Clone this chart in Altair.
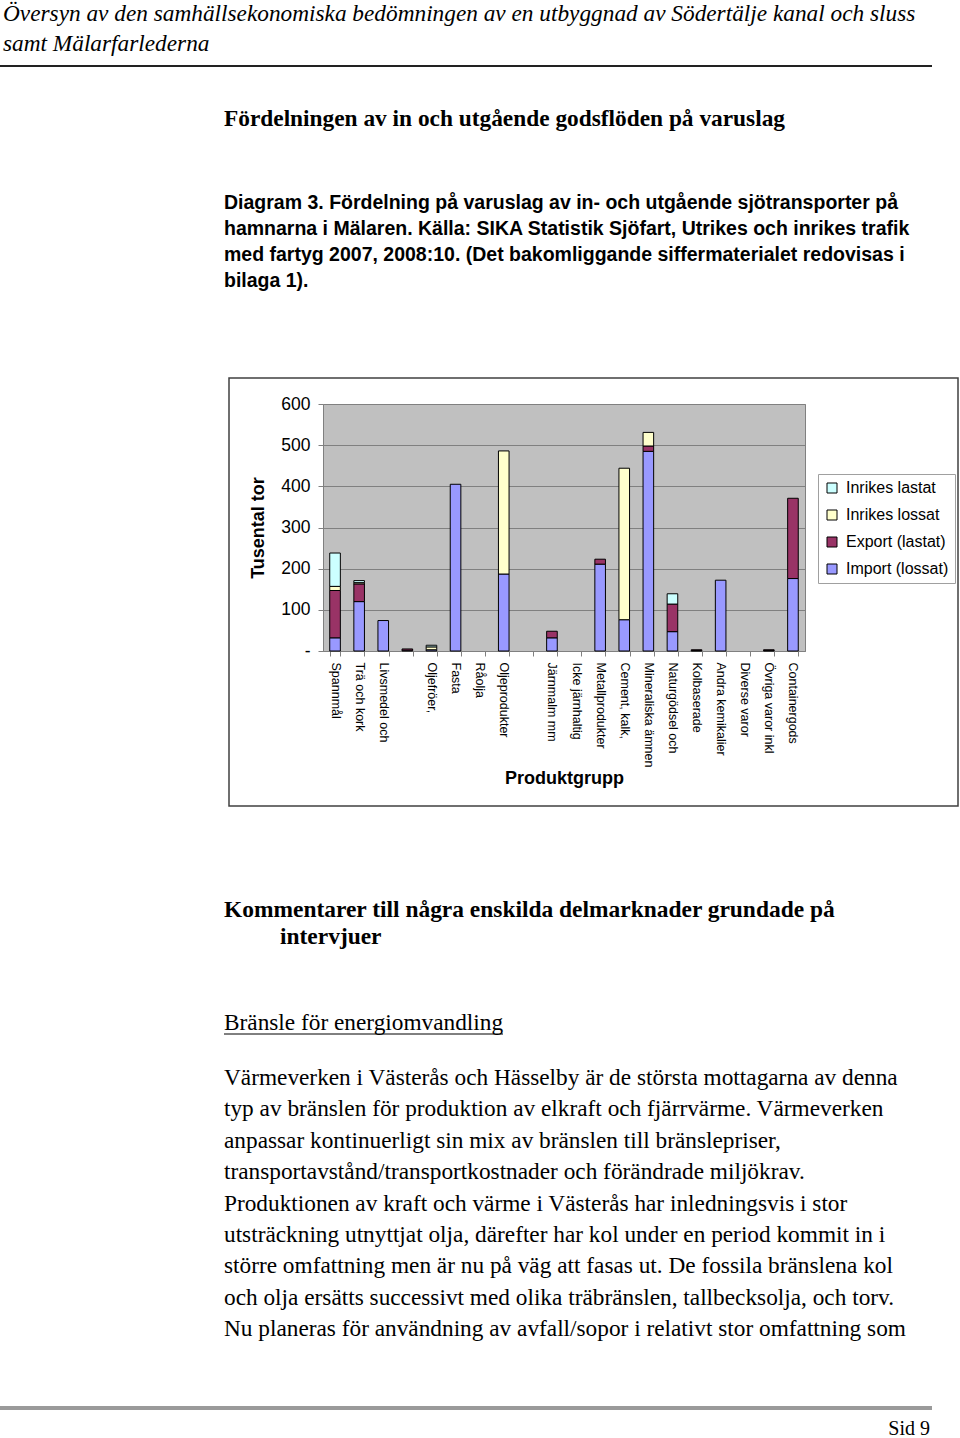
import altair as alt
import pandas as pd

# ---------------- data ----------------
categories = ["Spannmål", "Trä och kork", "Livsmedel och", " ", "Oljefröer,", "Fasta",
              "Råolja", "Oljeprodukter", "  ", "Järnmalm mm", "Icke järnhaltig",
              "Metallprodukter", "Cement, kalk,", "Mineraliska ämnen", "Naturgödsel och",
              "Kolbaserade", "Andra kemikalier", "Diverse varor", "Övriga varor inkl",
              "Containergods"]
import_lossat = [32, 120, 74, 2, 3, 405, 0, 187, 0, 32, 0, 211, 76, 485, 47, 1, 172, 0, 1, 176]
export_lastat = [115, 43, 0, 3, 0, 0, 0, 0, 0, 16, 0, 12, 0, 13, 67, 2, 0, 0, 2, 195]
inrikes_lossat = [10, 3, 0, 0, 7, 0, 0, 299, 0, 0, 0, 0, 368, 33, 0, 0, 0, 0, 0, 0]
inrikes_lastat = [81, 5, 0, 0, 4, 0, 0, 0, 0, 0, 0, 0, 0, 0, 25, 0, 0, 0, 0, 0]

series_names = ["Inrikes lastat", "Inrikes lossat", "Export (lastat)", "Import (lossat)"]
series_colors = ["#CCFFFF", "#FFFFCC", "#993366", "#9999FF"]
y_ticks = [0, 100, 200, 300, 400, 500, 600]

header_lines = ["Översyn av den samhällsekonomiska bedömningen av en utbyggnad av Södertälje kanal och sluss",
                "samt Mälarfarlederna"]
section_title = "Fördelningen av in och utgående godsflöden på varuslag"
caption_lines = ["Diagram 3. Fördelning på varuslag av in- och utgående sjötransporter på",
                 "hamnarna i Mälaren. Källa: SIKA Statistik Sjöfart, Utrikes och inrikes trafik",
                 "med fartyg 2007, 2008:10. (Det bakomliggande siffermaterialet redovisas i",
                 "bilaga 1)."]
comment_line1 = "Kommentarer till några enskilda delmarknader grundade på"
comment_line2 = "intervjuer"
subheading = "Bränsle för energiomvandling"
paragraph_lines = ["Värmeverken i Västerås och Hässelby är de största mottagarna av denna",
                   "typ av bränslen för produktion av elkraft och fjärrvärme. Värmeverken",
                   "anpassar kontinuerligt sin mix av bränslen till bränslepriser,",
                   "transportavstånd/transportkostnader och förändrade miljökrav.",
                   "Produktionen av kraft och värme i Västerås har inledningsvis i stor",
                   "utsträckning utnyttjat olja, därefter har kol under en period kommit in i",
                   "större omfattning men är nu på väg att fasas ut. De fossila bränslena kol",
                   "och olja ersätts successivt med olika träbränslen, tallbecksolja, och torv.",
                   "Nu planeras för användning av avfall/sopor i relativt stor omfattning som"]
footer_text = "Sid 9"

# ---------------- table ----------------
stack = [("Import (lossat)", import_lossat), ("Export (lastat)", export_lastat),
         ("Inrikes lossat", inrikes_lossat), ("Inrikes lastat", inrikes_lastat)]
rows = []
for k, (name, vals) in enumerate(stack):
    for c, v in zip(categories, vals):
        rows.append({"kategori": c, "serie": name, "varde": v, "ordning": k})
df = pd.DataFrame(rows)

# plot area placement on the page
PX, PY = 323, 404
W, H = 482, 247
PAGE_W, PAGE_H = 960, 1438

SANS = "Liberation Sans"
SERIF = "Liberation Serif"

bars = alt.Chart(df).transform_filter("datum.varde > 0").mark_bar(
    stroke="black", strokeWidth=1
).encode(
    x=alt.X("kategori:N", sort=categories,
            scale=alt.Scale(domain=categories, paddingInner=0.56, paddingOuter=0.28),
            axis=alt.Axis(title="Produktgrupp", labelAngle=90, labelFont=SANS,
                          labelFontSize=12.5, labelColor="black", labelPadding=6,
                          labelLimit=300, tickBand="extent", tickSize=5,
                          tickColor="#808080", domainColor="#808080", grid=False,
                          titleFont=SANS, titleFontSize=18, titleFontWeight="bold",
                          titleColor="black", titlePadding=3)),
    y=alt.Y("varde:Q", stack="zero",
            scale=alt.Scale(domain=[0, 600], nice=False),
            axis=alt.Axis(values=y_ticks, title="Tusental tor",
                          labelExpr="datum.value == 0 ? '-' : datum.label",
                          labelFont=SANS, labelFontSize=17.5, labelColor="black",
                          labelPadding=8, tickSize=5, tickColor="#808080",
                          domain=False, grid=True, gridColor="#808080",
                          titleFont=SANS, titleFontSize=18, titleFontWeight="bold",
                          titleColor="black", titlePadding=13)),
    color=alt.Color("serie:N", scale=alt.Scale(domain=series_names, range=series_colors),
                    legend=alt.Legend(title=None, orient="none", legendX=495, legendY=70,
                                      symbolType="square", symbolSize=100,
                                      symbolStrokeColor="black", symbolStrokeWidth=1,
                                      symbolOpacity=1,
                                      labelFont=SANS, labelFontSize=16, labelColor="black",
                                      labelOffset=6, labelLimit=300, padding=6,
                                      rowPadding=11, strokeColor="#A0A0A0",
                                      fillColor="white")),
    order=alt.Order("ordning:Q", sort="ascending"),
)

one = alt.Data(values=[{"k": 1}])


def text_block(lines, x, y, font, size, weight="normal", style="normal",
               line_height=None, align="left"):
    kw = dict(align=align, baseline="alphabetic", font=font, fontSize=size,
              fontWeight=weight, fontStyle=style, color="black")
    if line_height is not None:
        kw["lineHeight"] = line_height
    return alt.Chart(one).mark_text(**kw).encode(
        x=alt.value(x - PX), y=alt.value(y - PY), text=alt.value(lines))


def hrule(x1, x2, y, color, width):
    return alt.Chart(one).mark_rule(color=color, strokeWidth=width).encode(
        x=alt.value(x1 - PX), x2=alt.value(x2 - PX), y=alt.value(y - PY))


frame = alt.Chart(one).mark_rect(fillOpacity=0, stroke="#404040", strokeWidth=1.5).encode(
    x=alt.value(229 - PX), x2=alt.value(958 - PX),
    y=alt.value(378 - PY), y2=alt.value(806 - PY))

layers = [
    frame,
    bars,
    text_block(header_lines, 3, 21, SERIF, 23.3, style="italic", line_height=30),
    hrule(0, 932, 66, "#222222", 2),
    text_block(section_title, 224, 126, SERIF, 23.35, weight="bold"),
    text_block(caption_lines, 224, 209, SANS, 19.5, weight="bold", line_height=26),
    text_block(comment_line1, 224, 917, SERIF, 23.45, weight="bold"),
    text_block(comment_line2, 280, 944, SERIF, 23.45, weight="bold"),
    text_block(subheading, 224, 1030, SERIF, 23.3),
    hrule(224, 503, 1034, "black", 1),
    text_block(paragraph_lines, 224, 1085, SERIF, 23.3, line_height=31.4),
    hrule(0, 932, 1408, "#9A9A9A", 4),
    text_block(footer_text, 930, 1435, SERIF, 20, align="right"),
]

chart = alt.layer(*layers).properties(
    width=W, height=H,
    autosize=alt.AutoSizeParams(type="none"),
    padding={"left": PX, "top": PY, "right": PAGE_W - PX - W, "bottom": PAGE_H - PY - H},
    background="white",
).configure_view(fill="#C0C0C0", stroke="#808080", strokeWidth=1)

chart.save("out.html", embed_options={"renderer": "svg", "actions": False})
